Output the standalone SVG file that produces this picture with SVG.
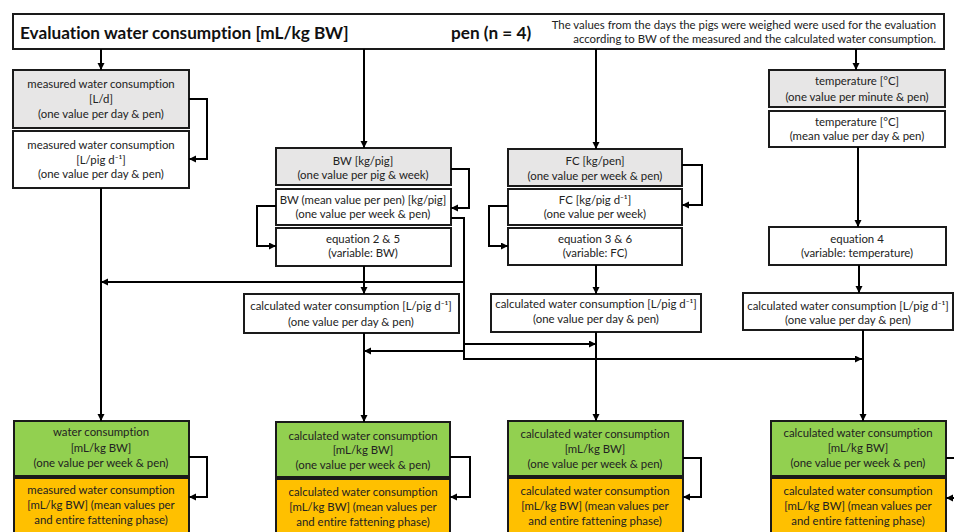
<svg xmlns="http://www.w3.org/2000/svg" width="954" height="532" viewBox="0 0 954 532">
<defs>
<marker id="ah" markerUnits="userSpaceOnUse" markerWidth="8" markerHeight="8" refX="7" refY="3.5" orient="auto">
<path d="M0,0 L7,3.5 L0,7 z" fill="#000"/>
</marker>
<style>
rect{stroke:#1a1a1a;stroke-width:2}
.g{fill:#e7e6e6}.w{fill:#fff}.gr{fill:#92d050}.o{fill:#ffc000}
text{font-family:Lato,"Liberation Sans",sans-serif;font-size:11.4px;fill:#222;text-anchor:middle;font-variant-ligatures:none}
.t{font-size:17.2px;font-weight:bold;text-anchor:start;fill:#111}
.s{font-size:11.4px;text-anchor:end}
#conn path{fill:none;stroke:#000;stroke-width:2}
</style>
</defs>
<rect width="954" height="532" fill="#fff" style="stroke:none"/>
<g id="title">
<rect class="w" x="13" y="14" width="931" height="35"/>
<text class="t" x="20" y="39">Evaluation water consumption [mL/kg BW]</text>
<text class="t" x="451" y="39">pen (n = 4)</text>
<text class="s" x="936" y="29">The values from the days the pigs were weighed were used for the evaluation</text>
<text class="s" x="936" y="43">according to BW of the measured and the calculated water consumption.</text>
</g>
<g id="mwc-ld">
<rect class="g" x="13" y="70" width="176" height="58"/>
<text x="101" y="88">measured water consumption</text>
<text x="101" y="103">[L/d]</text>
<text x="101" y="118">(one value per day &amp; pen)</text>
</g>
<g id="mwc-lpig">
<rect class="w" x="13" y="131" width="176" height="57"/>
<text x="101" y="149">measured water consumption</text>
<text x="101" y="164">[L/pig d⁻¹]</text>
<text x="101" y="178">(one value per day &amp; pen)</text>
</g>
<g id="wc-green1">
<rect class="gr" x="14" y="421" width="175" height="55"/>
<text x="101" y="436">water consumption</text>
<text x="101" y="452">[mL/kg BW]</text>
<text x="101" y="467">(one value per week &amp; pen)</text>
</g>
<g id="wc-orange1">
<rect class="o" x="14" y="478" width="175" height="64"/>
<text x="101" y="494">measured water consumption</text>
<text x="101" y="509">[mL/kg BW] (mean values per</text>
<text x="101" y="524">and entire fattening phase)</text>
</g>
<g id="bw">
<rect class="g" x="276" y="148" width="175" height="37"/>
<text x="363" y="165">BW [kg/pig]</text>
<text x="363" y="179">(one value per pig &amp; week)</text>
</g>
<g id="bw-mean">
<rect class="w" x="276" y="189" width="175" height="36"/>
<text x="363" y="204">BW (mean value per pen) [kg/pig]</text>
<text x="363" y="218">(one value per week &amp; pen)</text>
</g>
<g id="eq25">
<rect class="w" x="276" y="228" width="175" height="38"/>
<text x="363" y="243">equation 2 &amp; 5</text>
<text x="363" y="257">(variable: BW)</text>
</g>
<g id="calc2">
<rect class="w" x="244" y="294" width="215" height="39"/>
<text x="351" y="310">calculated water consumption [L/pig d⁻¹]</text>
<text x="351" y="326">(one value per day &amp; pen)</text>
</g>
<g id="green2">
<rect class="gr" x="276" y="422" width="174" height="55"/>
<text x="363" y="440">calculated water consumption</text>
<text x="363" y="454">[mL/kg BW]</text>
<text x="363" y="469">(one value per week &amp; pen)</text>
</g>
<g id="orange2">
<rect class="o" x="276" y="479" width="174" height="64"/>
<text x="363" y="496">calculated water consumption</text>
<text x="363" y="511">[mL/kg BW] (mean values per</text>
<text x="363" y="526">and entire fattening phase)</text>
</g>
<g id="fc">
<rect class="g" x="508" y="149" width="174" height="37"/>
<text x="595" y="165">FC [kg/pen]</text>
<text x="595" y="180">(one value per week &amp; pen)</text>
</g>
<g id="fc-pig">
<rect class="w" x="508" y="189" width="174" height="36"/>
<text x="595" y="204">FC [kg/pig d⁻¹]</text>
<text x="595" y="218">(one value per week)</text>
</g>
<g id="eq36">
<rect class="w" x="508" y="228" width="174" height="37"/>
<text x="595" y="243">equation 3 &amp; 6</text>
<text x="595" y="257">(variable: FC)</text>
</g>
<g id="calc3">
<rect class="w" x="491" y="294" width="210" height="38"/>
<text x="596" y="308">calculated water consumption [L/pig d⁻¹]</text>
<text x="596" y="323">(one value per day &amp; pen)</text>
</g>
<g id="green3">
<rect class="gr" x="508" y="421" width="175" height="55"/>
<text x="595" y="438">calculated water consumption</text>
<text x="595" y="453">[mL/kg BW]</text>
<text x="595" y="468">(one value per week &amp; pen)</text>
</g>
<g id="orange3">
<rect class="o" x="508" y="478" width="175" height="64"/>
<text x="595" y="495">calculated water consumption</text>
<text x="595" y="510">[mL/kg BW] (mean values per</text>
<text x="595" y="525">and entire fattening phase)</text>
</g>
<g id="temp">
<rect class="g" x="769" y="70" width="176" height="37"/>
<text x="857" y="85">temperature [°C]</text>
<text x="857" y="101">(one value per minute &amp; pen)</text>
</g>
<g id="temp-mean">
<rect class="w" x="769" y="111" width="176" height="36"/>
<text x="857" y="126">temperature [°C]</text>
<text x="857" y="140">(mean value per day &amp; pen)</text>
</g>
<g id="eq4">
<rect class="w" x="769" y="227" width="177" height="38"/>
<text x="857" y="243">equation 4</text>
<text x="857" y="257">(variable: temperature)</text>
</g>
<g id="calc4">
<rect class="w" x="743" y="293" width="210" height="37"/>
<text x="848" y="310">calculated water consumption [L/pig d⁻¹]</text>
<text x="848" y="324">(one value per day &amp; pen)</text>
</g>
<g id="green4">
<rect class="gr" x="771" y="421" width="175" height="55"/>
<text x="858" y="437">calculated water consumption</text>
<text x="858" y="452">[mL/kg BW]</text>
<text x="858" y="467">(one value per week &amp; pen)</text>
</g>
<g id="orange4">
<rect class="o" x="771" y="478" width="175" height="64"/>
<text x="858" y="495">calculated water consumption</text>
<text x="858" y="510">[mL/kg BW] (mean values per</text>
<text x="858" y="525">and entire fattening phase)</text>
</g>
<g id="conn">
<path d="M101,49 V70" marker-end="url(#ah)"/>
<path d="M364,49 V148" marker-end="url(#ah)"/>
<path d="M596,49 V149" marker-end="url(#ah)"/>
<path d="M856,49 V70" marker-end="url(#ah)"/>
<path d="M189,99 H207 V159 H189" marker-end="url(#ah)"/>
<path d="M101,188 V421" marker-end="url(#ah)"/>
<path d="M189,457 H207 V497 H189" marker-end="url(#ah)"/>
<path d="M451,169 H469 V208 H451" marker-end="url(#ah)"/>
<path d="M276,206 H257 V246 H276" marker-end="url(#ah)"/>
<path d="M364,266 V294" marker-end="url(#ah)"/>
<path d="M451,218 H464 V359 H862" marker-end="url(#ah)"/>
<path d="M464,282 H101" marker-end="url(#ah)"/>
<path d="M464,344 H596" marker-end="url(#ah)"/>
<path d="M464,351 H364" marker-end="url(#ah)"/>
<path d="M364,333 V422" marker-end="url(#ah)"/>
<path d="M450,457 H470 V497 H450" marker-end="url(#ah)"/>
<path d="M682,165 H702 V205 H682" marker-end="url(#ah)"/>
<path d="M508,206 H489 V246 H508" marker-end="url(#ah)"/>
<path d="M596,265 V294" marker-end="url(#ah)"/>
<path d="M596,332 V421" marker-end="url(#ah)"/>
<path d="M683,458 H701 V497 H683" marker-end="url(#ah)"/>
<path d="M858,147 V227" marker-end="url(#ah)"/>
<path d="M859,265 V293" marker-end="url(#ah)"/>
<path d="M863,330 V421" marker-end="url(#ah)"/>
<path d="M946,458 H962 V498 H946" marker-end="url(#ah)"/>
</g>
</svg>
